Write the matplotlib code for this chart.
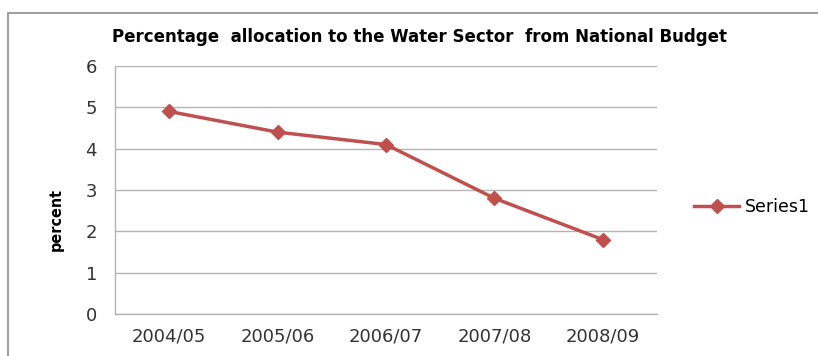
import matplotlib.pyplot as plt
from matplotlib.patches import Rectangle

years = ["2004/05", "2005/06", "2006/07", "2007/08", "2008/09"]
percent = [4.9, 4.4, 4.1, 2.8, 1.8]

red = "#C0504D"
grid = "#B4B4B4"

fig = plt.figure(figsize=(8.18, 3.56), dpi=100)
fig.patches.append(Rectangle((8 / 818, -0.2), 1.2, 1.2 - 13 / 356,
                             transform=fig.transFigure, fill=False,
                             edgecolor="#8C8C8C", linewidth=1.2))

ax = fig.add_axes([115 / 818, 1 - 314 / 356, (657 - 115) / 818, (314 - 66) / 356])
x = list(range(len(years)))
ax.plot(x, percent, color=red, linewidth=2.5, marker="D", markersize=7,
        label="Series1")

ax.set_xlim(-0.5, len(years) - 0.5)
ax.set_ylim(0, 6)
ax.set_yticks(range(0, 7))
ax.set_xticks(x)
ax.set_xticklabels(years)
ax.yaxis.grid(True, color=grid, linewidth=1)
ax.set_axisbelow(True)
for s in ["top", "right"]:
    ax.spines[s].set_visible(False)
for s in ["left", "bottom"]:
    ax.spines[s].set_color(grid)
    ax.spines[s].set_linewidth(1)
ax.tick_params(length=0, labelsize=13, colors="#333333", pad=13)
ax.tick_params(axis="x", pad=10)

ax.set_ylabel("percent", fontsize=11.5, fontweight="bold",
              fontstretch="condensed", family="DejaVu Sans")
ax.yaxis.set_label_coords(-0.095, 0.38)

fig.text(420 / 818, 1 - 37 / 356,
         "Percentage  allocation to the Water Sector  from National Budget",
         ha="center", va="center", fontsize=12, fontweight="bold",
         family="DejaVu Sans")

leg = ax.legend(loc="center left", bbox_to_anchor=(1.04, 0.43), frameon=False,
                handlelength=2.6, handletextpad=0.3,
                prop={"family": "DejaVu Sans", "size": 12.5})

fig.savefig("out.png", dpi=100)
